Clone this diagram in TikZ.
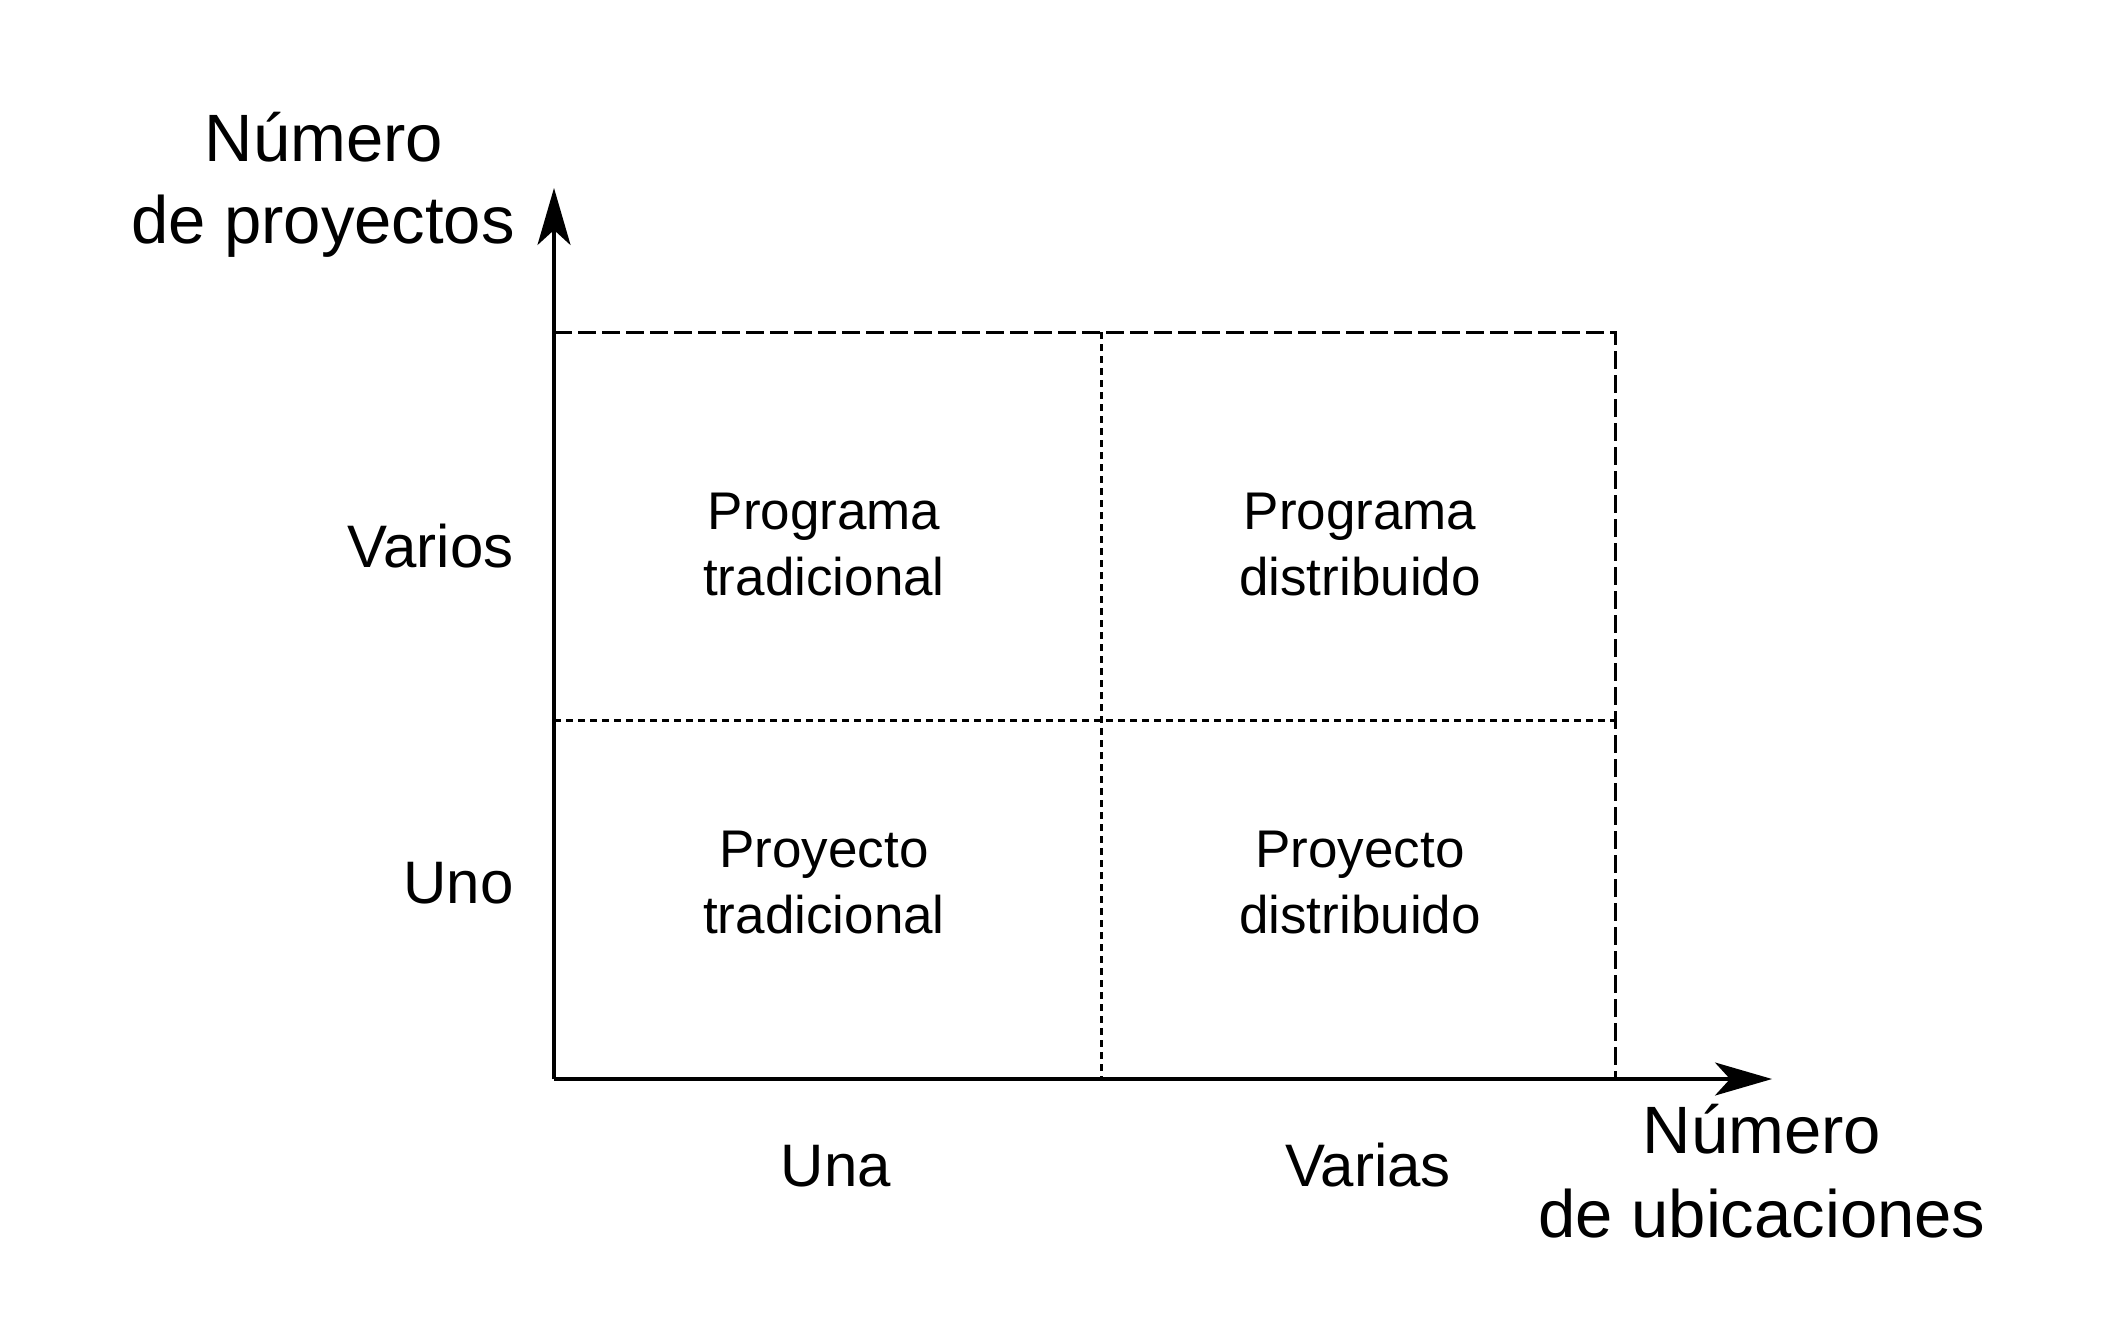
\documentclass[tikz,border=0pt]{standalone}
\usepackage{fontspec}
\setmainfont{Liberation Sans}
\usetikzlibrary{arrows.meta}
\begin{document}
\begin{tikzpicture}[x=0.5pt,y=-0.5pt,
  axis/.style={line width=1.6pt,-{Stealth[length=28.5pt,width=16.5pt,inset=7.5pt]}},
  boxline/.style={line width=1.5pt,dash pattern=on 9pt off 3pt},
  gridline/.style={line width=1.5pt,dash pattern=on 3.5pt off 2.5pt},
  title/.style={font=\fontsize{33.5}{40}\selectfont,inner sep=0pt,anchor=base},
  ticklabel/.style={font=\fontsize{30}{36}\selectfont,inner sep=0pt,anchor=base},
  rowlabel/.style={font=\fontsize{30}{36}\selectfont,inner sep=0pt,anchor=base east},
  cell/.style={font=\fontsize{26.5}{32}\selectfont,inner sep=0pt,anchor=base}]
\useasboundingbox (0,0) rectangle (2124,1333);
\coordinate (O) at (554,1079);
\coordinate (Ytip) at (554,188);
\coordinate (Xtip) at (1772,1079);
\coordinate (TL) at (554,332);
\coordinate (TR) at (1615,332);
\coordinate (BR) at (1615,1079);
\coordinate (MT) at (1101,332);
\coordinate (MB) at (1101,1079);
\coordinate (ML) at (554,720);
\coordinate (MR) at (1615,720);
\draw[gridline] (MT) -- (MB);
\draw[gridline] (ML) -- (MR);
\draw[boxline] (TL) -- (TR) -- (BR);
\draw[axis] (O) -- (Ytip);
\draw[axis] (O) -- (Xtip);
% axis titles
\node[title] (yt1) at (324,161) {Número};
\node[title] (yt2) at (323,243) {de proyectos};
\node[title] (xt1) at (1762,1153) {Número};
\node[title] (xt2) at (1762,1237) {de ubicaciones};
% row and column labels
\node[rowlabel] (varios) at (514,567) {Varios};
\node[rowlabel] (uno) at (514,903) {Uno};
\node[ticklabel] (una) at (836,1186) {Una};
\node[ticklabel] (varias) at (1368,1186) {Varias};
% cells
\node[cell] (pt1) at (824,529) {Programa};
\node[cell] (pt2) at (824,595) {tradicional};
\node[cell] (pd1) at (1360,529) {Programa};
\node[cell] (pd2) at (1360,595) {distribuido};
\node[cell] (yt1c) at (824,867) {Proyecto};
\node[cell] (yt2c) at (824,933) {tradicional};
\node[cell] (yd1) at (1360,867) {Proyecto};
\node[cell] (yd2) at (1360,933) {distribuido};
\end{tikzpicture}
\end{document}
